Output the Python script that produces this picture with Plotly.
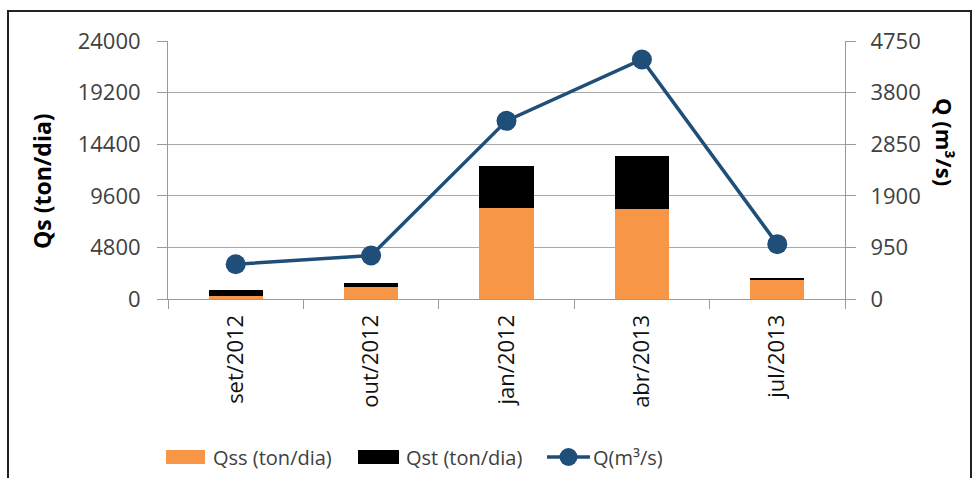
import plotly.graph_objects as go

# Campaign dates and measured values
campanhas = ["set/2012", "out/2012", "jan/2012", "abr/2013", "jul/2013"]
qss = [250, 1150, 8500, 8350, 1800]      # suspended sediment discharge (ton/dia)
qst = [550, 350, 3900, 4950, 100]        # total minus suspended (ton/dia)
vazao = [640, 800, 3280, 4410, 1010]     # water discharge Q (m3/s)

qs_ticks = [0, 4800, 9600, 14400, 19200, 24000]
q_ticks = [0, 950, 1900, 2850, 3800, 4750]

FONT = "Open Sans"
TXT = "#404040"
AX = "#9a9a9a"
ORANGE = "#F79646"
BLUE = "#1F4E79"

# plot area in pixels (used to place paper-referenced decorations)
L, R, T, B = 168, 845, 41, 299


def px(x):
    return (x - L) / (R - L)


def py(y):
    return (B - y) / (B - T)


fig = go.Figure()
fig.add_trace(go.Bar(x=campanhas, y=qss, name="Qss (ton/dia)",
                     marker=dict(color=ORANGE, line=dict(width=0))))
fig.add_trace(go.Bar(x=campanhas, y=qst, name="Qst (ton/dia)",
                     marker=dict(color="#000000", line=dict(width=0))))
fig.add_trace(go.Scatter(x=campanhas, y=vazao, name="Q(m³/s)", yaxis="y2",
                         mode="lines+markers",
                         line=dict(color=BLUE, width=3.5),
                         marker=dict(color=BLUE, size=20)))

fig.update_layout(
    width=973, height=478,
    margin=dict(l=L, r=973 - R, t=T, b=478 - B),
    paper_bgcolor="white", plot_bgcolor="white",
    barmode="stack", bargap=0.6,
    font=dict(family=FONT, size=20, color=TXT),
    showlegend=False,
    xaxis=dict(type="category", showline=True, linecolor=AX, linewidth=1,
               ticks="outside", tickson="boundaries", ticklen=9, tickcolor=AX,
               tickangle=-90, tickfont=dict(size=22, color="#111111"),
               ticklabelstandoff=6, showgrid=False, automargin=False),
    yaxis=dict(range=[0, 24000], tickvals=qs_ticks,
               ticktext=[str(v) for v in qs_ticks], showline=True, linecolor=AX,
               ticks="outside", ticklen=10, tickcolor=AX, showgrid=True,
               gridcolor="#a8a8a8", gridwidth=1, zeroline=False,
               tickfont=dict(size=22, color=TXT), ticklabelstandoff=12,
               automargin=False),
    yaxis2=dict(range=[0, 4750], tickvals=q_ticks,
                ticktext=[str(v) for v in q_ticks], overlaying="y", side="right",
                showline=True, linecolor=AX, ticks="outside", ticklen=10,
                tickcolor=AX, showgrid=False, zeroline=False,
                tickfont=dict(size=22, color=TXT), ticklabelstandoff=10,
                automargin=False),
)

# Axis titles
fig.add_annotation(text="<b>Qs (ton/dia)</b>", xref="paper", yref="paper",
                   x=px(42), y=py(181), xanchor="center", yanchor="middle",
                   textangle=-90, showarrow=False,
                   font=dict(size=23, color="#000000", family=FONT))
fig.add_annotation(text="<b>Q (m³/s)</b>", xref="paper", yref="paper",
                   x=px(945), y=py(142), xanchor="center", yanchor="middle",
                   textangle=90, showarrow=False,
                   font=dict(size=22, color="#000000", family=FONT))

# Legend drawn below the category labels
LY = 457
legend_items = [
    ("bar", ORANGE, "Qss (ton/dia)", 166, 205, 211),
    ("bar", "#000000", "Qst (ton/dia)", 358, 399, 404),
    ("line", BLUE, "Q(m³/s)", 547, 590, 591),
]
for kind, color, label, xa, xb, xt in legend_items:
    if kind == "bar":
        fig.add_shape(type="rect", xref="paper", yref="paper",
                      x0=px(xa), x1=px(xb), y0=py(LY + 7), y1=py(LY - 7),
                      fillcolor=color, line=dict(width=0))
    else:
        fig.add_shape(type="line", xref="paper", yref="paper",
                      x0=px(xa), x1=px(xb), y0=py(LY), y1=py(LY),
                      line=dict(color=color, width=3.5))
        xm = (xa + xb) / 2
        fig.add_shape(type="circle", xref="paper", yref="paper",
                      x0=px(xm - 9), x1=px(xm + 9), y0=py(LY + 9), y1=py(LY - 9),
                      fillcolor=color, line=dict(width=0))
    fig.add_annotation(text=label, xref="paper", yref="paper",
                       x=px(xt), y=py(LY), xanchor="left", yanchor="middle",
                       showarrow=False, font=dict(size=20, color=TXT, family=FONT))

# Outer chart frame
fig.add_shape(type="rect", xref="paper", yref="paper",
              x0=px(8), x1=px(971), y0=py(495), y1=py(11),
              line=dict(color="#222222", width=2), layer="below")

fig.write_html("out.html")
